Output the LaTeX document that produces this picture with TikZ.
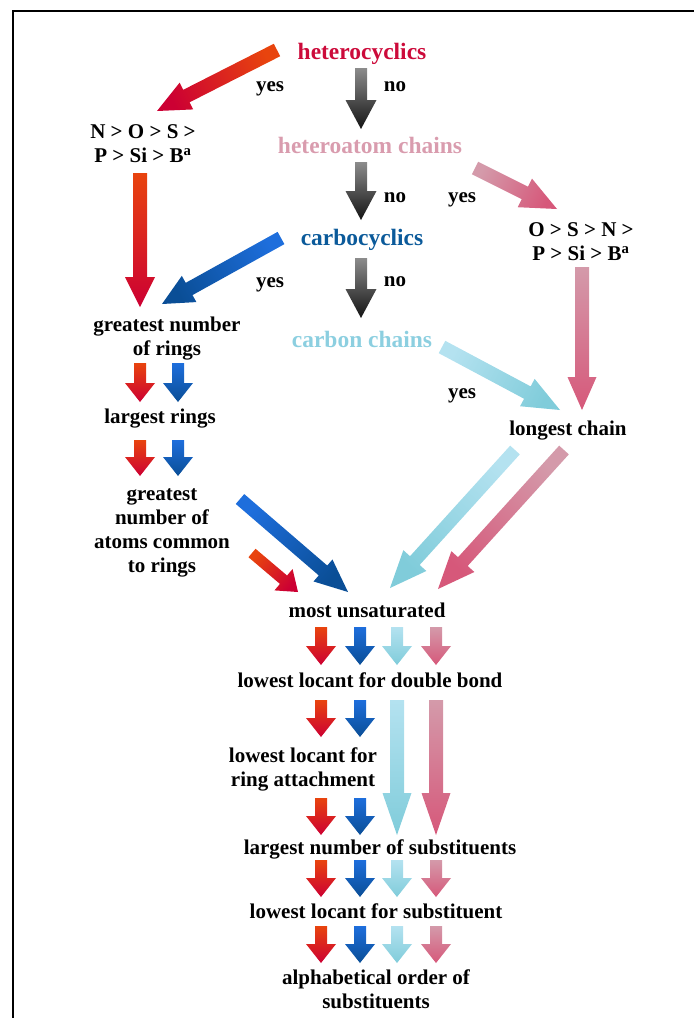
\documentclass[tikz,border=0pt]{standalone}
\usepackage{fontspec}
\setmainfont{Liberation Serif}
\usetikzlibrary{calc}
\definecolor{hetred}{HTML}{CC0A3A}
\definecolor{hetpink}{HTML}{D99CAE}
\definecolor{carbblue}{HTML}{0B5A9A}
\definecolor{carbcyan}{HTML}{8CCFE0}
\definecolor{redtop}{HTML}{E8440E}
\definecolor{redbot}{HTML}{CC0033}
\definecolor{bluetop}{HTML}{1E6EDC}
\definecolor{bluebot}{HTML}{0A4E96}
\definecolor{cyantop}{HTML}{B4E2F0}
\definecolor{cyanbot}{HTML}{80CCDA}
\definecolor{pinktop}{HTML}{D49AAA}
\definecolor{pinkbot}{HTML}{D6587A}
\definecolor{graytop}{HTML}{8C8C8C}
\definecolor{graybot}{HTML}{141414}
\makeatletter
% tail, tip, shaft width (px), head width (px), head length (px), top colour, bottom colour
\newcommand\blockarrow[7]{%
  \pgfpointdiff{\pgfpointanchor{#1}{center}}{\pgfpointanchor{#2}{center}}%
  \edef\ba@x{\the\pgf@x}\edef\ba@y{\the\pgf@y}%
  \pgfmathsetmacro\ba@ang{atan2(\ba@y,\ba@x)+90}%
  \pgfmathsetmacro\ba@hs{#3*0.375}%
  \pgfmathsetmacro\ba@hw{#4*0.375}%
  \pgfmathsetmacro\ba@hl{#5*0.75}%
  \coordinate (bah) at ($(#2)!\ba@hl pt!(#1)$);
  \shade[top color=#6, bottom color=#7, shading angle=\ba@ang]
    ($(#1)!\ba@hs pt!90:(#2)$) -- ($(bah)!\ba@hs pt!90:(#2)$) --
    ($(bah)!\ba@hw pt!90:(#2)$) -- (#2) --
    ($(bah)!\ba@hw pt!-90:(#2)$) -- ($(bah)!\ba@hs pt!-90:(#2)$) --
    ($(#1)!\ba@hs pt!-90:(#2)$) -- cycle;
}
\makeatother
\tikzset{
  lbl/.style={font=\fontsize{15.75}{18}\selectfont\bfseries, inner sep=0pt, align=center, anchor=base},
  cat/.style={font=\fontsize{17.6}{21}\selectfont\bfseries, inner sep=0pt, anchor=base},
  frame/.style={line width=1.5pt, black},
}
\begin{document}
\begin{tikzpicture}[x=0.75pt, y=-0.75pt]
\useasboundingbox (0,0) rectangle (694,1018);
\draw[frame] (13,1018) -- (13,10.5) -- (694,10.5);

% text nodes (multi-line nodes are placed by the baseline of their last line)
\node[cat, text=hetred] (hetcyc) at (362,59) {heterocyclics};
\node[lbl] (yes1) at (270,91) {yes};
\node[lbl] (no1) at (395,91) {no};
\node[lbl] (nos) at (143,162) {N > O > S >\\P > Si > B\textsuperscript{a}};
\node[cat, text=hetpink] (hetch) at (370,153) {heteroatom chains};
\node[lbl] (no2) at (395,202) {no};
\node[lbl] (yes2) at (462,202) {yes};
\node[cat, text=carbblue] (carbcyc) at (362,245) {carbocyclics};
\node[lbl] (osn) at (581,260) {O > S > N >\\P > Si > B\textsuperscript{a}};
\node[lbl] (yes3) at (270,287) {yes};
\node[lbl] (no3) at (395,286) {no};
\node[lbl] (gnr) at (167,355) {greatest number\\of rings};
\node[cat, text=carbcyan] (carbch) at (362,347) {carbon chains};
\node[lbl] (lr) at (160,423) {largest rings};
\node[lbl] (yes4) at (462,398) {yes};
\node[lbl] (lc) at (568,435) {longest chain};
\node[lbl] (gnac) at (162,572) {greatest\\number of\\atoms common\\to rings};
\node[lbl] (mu) at (367,617) {most unsaturated};
\node[lbl] (lldb) at (370,687) {lowest locant for double bond};
\node[lbl] (llra) at (303,786) {lowest locant for\\ring attachment};
\node[lbl] (lns) at (380,854) {largest number of substituents};
\node[lbl] (lls) at (376,918) {lowest locant for substituent};
\node[lbl] (aos) at (376,1008) {alphabetical order of\\substituents};

% arrow end points
\coordinate (g1a) at (361,68);  \coordinate (g1b) at (361,129);
\coordinate (g2a) at (361,162); \coordinate (g2b) at (361,220);
\coordinate (g3a) at (361,258); \coordinate (g3b) at (361,318);
\coordinate (r0a) at (277,50);  \coordinate (r0b) at (157,111);
\coordinate (r1a) at (140,173); \coordinate (r1b) at (140,307);
\coordinate (b0a) at (281,238); \coordinate (b0b) at (162,304);
\coordinate (p0a) at (475,168); \coordinate (p0b) at (557,209);
\coordinate (p1a) at (582,267); \coordinate (p1b) at (582,410);
\coordinate (c0a) at (442,347); \coordinate (c0b) at (560,410);
\coordinate (rs1a) at (140,363); \coordinate (rs1b) at (140,402);
\coordinate (bs1a) at (178,363); \coordinate (bs1b) at (178,402);
\coordinate (rs2a) at (140,440); \coordinate (rs2b) at (140,476);
\coordinate (bs2a) at (178,440); \coordinate (bs2b) at (178,476);
\coordinate (b2a) at (240,499); \coordinate (b2b) at (348,592);
\coordinate (r2a) at (252,553); \coordinate (r2b) at (298,592);
\coordinate (c2a) at (515,450); \coordinate (c2b) at (390,588);
\coordinate (p2a) at (564,450); \coordinate (p2b) at (438,589);

% top part
\blockarrow{g1a}{g1b}{12}{31}{29}{graytop}{graybot}
\blockarrow{g2a}{g2b}{12}{31}{29}{graytop}{graybot}
\blockarrow{g3a}{g3b}{12}{31}{29}{graytop}{graybot}
\blockarrow{r0a}{r0b}{14}{30}{33}{redtop}{redbot}
\blockarrow{r1a}{r1b}{14}{30}{30}{redtop}{redbot}
\blockarrow{b0a}{b0b}{14}{30}{31}{bluetop}{bluebot}
\blockarrow{p0a}{p0b}{14}{32}{36}{pinktop}{pinkbot}
\blockarrow{p1a}{p1b}{14}{29}{33}{pinktop}{pinkbot}
\blockarrow{c0a}{c0b}{14}{31}{37}{cyantop}{cyanbot}
\blockarrow{rs1a}{rs1b}{12}{30}{19}{redtop}{redbot}
\blockarrow{bs1a}{bs1b}{12}{30}{19}{bluetop}{bluebot}
\blockarrow{rs2a}{rs2b}{12}{30}{19}{redtop}{redbot}
\blockarrow{bs2a}{bs2b}{12}{30}{19}{bluetop}{bluebot}
\blockarrow{b2a}{b2b}{13}{29}{33}{bluetop}{bluebot}
\blockarrow{r2a}{r2b}{11}{28}{19}{redtop}{redbot}
\blockarrow{c2a}{c2b}{13}{31}{37}{cyantop}{cyanbot}
\blockarrow{p2a}{p2b}{13}{31}{37}{pinktop}{pinkbot}

% rows of small arrows
\foreach \ya/\yb [count=\i] in {627/665, 860/897, 926/963}{
  \coordinate (ra\i) at (321,\ya); \coordinate (rb\i) at (321,\yb);
  \coordinate (ba\i) at (360,\ya); \coordinate (bb\i) at (360,\yb);
  \coordinate (ca\i) at (397,\ya); \coordinate (cb\i) at (397,\yb);
  \coordinate (pa\i) at (436,\ya); \coordinate (pb\i) at (436,\yb);
  \blockarrow{ra\i}{rb\i}{12}{30}{19}{redtop}{redbot}
  \blockarrow{ba\i}{bb\i}{12}{30}{19}{bluetop}{bluebot}
  \blockarrow{ca\i}{cb\i}{12}{30}{19}{cyantop}{cyanbot}
  \blockarrow{pa\i}{pb\i}{12}{30}{19}{pinktop}{pinkbot}
}
\foreach \ya/\yb [count=\i from 4] in {700/737, 798/835}{
  \coordinate (ra\i) at (321,\ya); \coordinate (rb\i) at (321,\yb);
  \coordinate (ba\i) at (360,\ya); \coordinate (bb\i) at (360,\yb);
  \blockarrow{ra\i}{rb\i}{12}{30}{19}{redtop}{redbot}
  \blockarrow{ba\i}{bb\i}{12}{30}{19}{bluetop}{bluebot}
}
\coordinate (cla) at (397,700); \coordinate (clb) at (397,835);
\coordinate (pla) at (436,700); \coordinate (plb) at (436,835);
\blockarrow{cla}{clb}{14}{29}{42}{cyantop}{cyanbot}
\blockarrow{pla}{plb}{14}{29}{42}{pinktop}{pinkbot}
\end{tikzpicture}
\end{document}
